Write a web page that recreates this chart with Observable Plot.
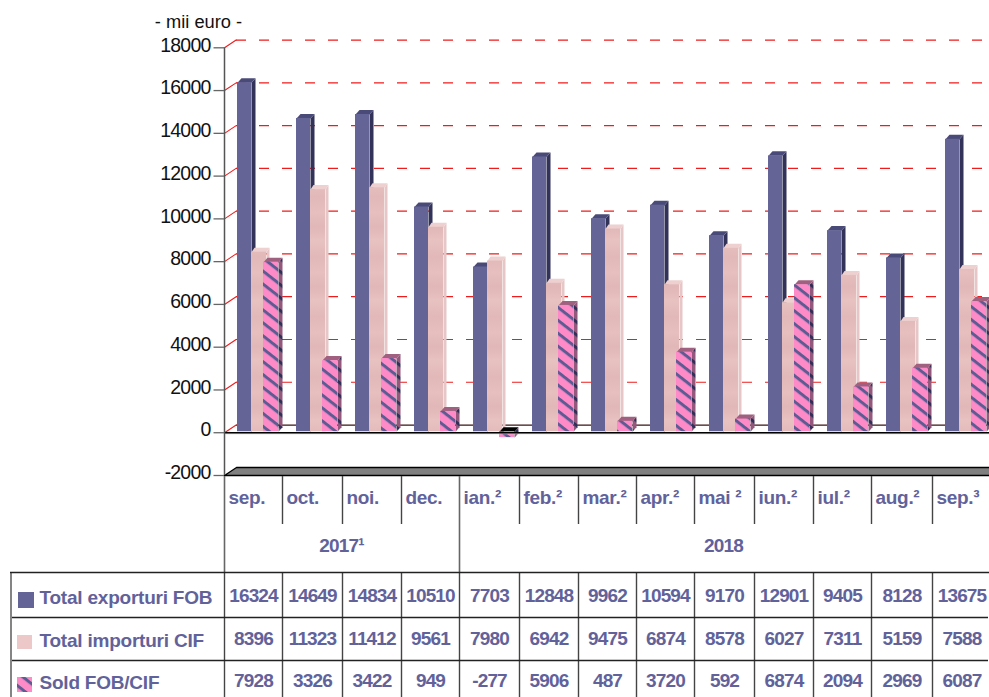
<!DOCTYPE html>
<html><head><meta charset="utf-8">
<script src="https://cdn.jsdelivr.net/npm/d3@7"></script>
<script src="https://cdn.jsdelivr.net/npm/@observablehq/plot@0.6"></script>
<style>
html,body{margin:0;padding:0;background:#fff;overflow:hidden}
#c{position:relative;width:989px;height:697px}
svg{display:block}
#c svg:nth-child(2){position:absolute;left:0;top:476px}
.lbl text{letter-spacing:-.22px}
.num text{letter-spacing:-.85px}
.mon text{letter-spacing:-.3px}
.ax text{letter-spacing:-.8px}
</style></head><body><div id="c"></div>
<script>
const months=["sep.","oct.","noi.","dec.","ian.²","feb.²","mar.²","apr.²","mai ²","iun.²","iul.²","aug.²","sep.³"];
const years=[{t:"2017¹",c:341},{t:"2018",c:723}];
const exportsFOB=[16324,14649,14834,10510,7703,12848,9962,10594,9170,12901,9405,8128,13675];
const importsCIF=[8396,11323,11412,9561,7980,6942,9475,6874,8578,6027,7311,5159,7588];
const soldFOB=[7928,3326,3422,949,-277,5906,487,3720,592,6874,2094,2969,6087];
const yTicks=[-2000,0,2000,4000,6000,8000,10000,12000,14000,16000,18000];
const names=["Total exporturi FOB","Total importuri CIF","Sold FOB/CIF"];

const INK="#62629b", FONT="Liberation Sans";
const pitch=59, x0px=237;
const U=px=>(px-x0px)/pitch;            // month units
const PXV=2000/42.85;                   // value units per pixel
const dX=4/pitch, dY=4.5*PXV, wX=12/pitch, wY=8*PXV;

function faces(vals,off,w,dx=dX){
  const side=[],top=[],front=[];
  vals.forEach((v,i)=>{
    const a=i+off,b=a+w,hi=Math.max(0,v),lo=Math.min(0,v);
    front.push({a,b,v});
    [[b,lo],[b+dx,lo+dY],[b+dx,hi+dY],[b,hi]].forEach(p=>side.push({id:i,x:p[0],y:p[1]}));
    [[a,hi],[a+dx,hi+dY],[b+dx,hi+dY],[b,hi]].forEach(p=>top.push({id:i,v,x:p[0],y:p[1]}));
  });
  return {side,top,front};
}
const poly=(d,fill,dy=-1)=>Plot.line(d,{x:"x",y:"y",z:"id",fill,stroke:"none",curve:"linear-closed",dy});
const series=(f,cS,cT,cF)=>[
  poly(f.side,cS),
  poly(f.top.filter(d=>d.v>=0),cT),
  poly(f.top.filter(d=>d.v<0),"#000"),
  Plot.rect(f.front,{x1:"a",x2:"b",y1:0,y2:"v",fill:cF,dy:-1})
];
const fE=faces(exportsFOB,0,14/pitch),fI=faces(importsCIF,14/pitch,15/pitch,3/pitch),fS=faces(soldFOB,26/pitch,15/pitch);

const defs=()=>{
  const g=d3.create("svg:defs");
  const stripe=(id,bg,fg)=>`<pattern id="${id}" patternUnits="userSpaceOnUse" width="10.2" height="10.2" patternTransform="rotate(38)"><rect width="10.2" height="10.2" fill="${bg}"/><rect y="0" width="10.2" height="3" fill="${fg}"/></pattern>`;
  g.html(stripe("hatch","#ff8ac8","#5c5c92")+stripe("hatchS","#94587c","#2f2f58")+
   `<linearGradient id="pg" x1="0" y1="0" x2="0" y2="1"><stop offset="0" stop-color="#e8c2c2"/><stop offset=".3" stop-color="#e2b8b8"/><stop offset=".55" stop-color="#e7bfbf"/><stop offset=".8" stop-color="#e1b7b7"/><stop offset="1" stop-color="#e7c0c0"/></linearGradient>
    <pattern id="pink" patternUnits="userSpaceOnUse" width="16" height="60"><rect width="16" height="60" fill="url(#pg)"/></pattern>`);
  return g.node();
};
const floor=[[U(224),-2000],[U(224)+wX,-2000+wY],[U(992),-2000+wY],[U(992),-2000]].map(p=>({id:0,x:p[0],y:p[1]}));

const chart=Plot.plot({
  width:989,height:697,marginLeft:224,marginRight:0,marginTop:47.3,marginBottom:222,
  style:{fontFamily:FONT,background:"#fff",color:"#111"},
  x:{domain:[U(224),U(989)],axis:null},
  y:{domain:[-2000,18000],axis:null},
  marks:[
    defs,
    Plot.ruleY(yTicks.filter(d=>d>0),{x1:U(236),x2:U(989),dy:-7.7,stroke:"#ee1c1c",strokeWidth:1.2,strokeDasharray:"10 13"}),
    Plot.ruleY([0],{x1:U(236),x2:U(989),dy:-7.7,stroke:"#3a1414",strokeWidth:1.2}),
    Plot.link(yTicks.filter(d=>d>=0),{x1:U(224),x2:U(236),y1:d=>d,y2:d=>d+wY,stroke:"#ee1c1c",strokeWidth:1.1}),
    Plot.line(floor,{x:"x",y:"y",z:"id",fill:"#808080",stroke:"#000",strokeWidth:1.3,curve:"linear-closed"}),
    ...series(fE,"#33335a","#4a4a78","#646496"),
    ...series(fI,"#e6c6c6","#eed0d0","url(#pink)"),
    ...series(fS,"url(#hatchS)","#a0607f","url(#hatch)"),
    Plot.ruleY([0],{x1:U(224),x2:U(989),dy:1,stroke:"#ccc",strokeWidth:1}),
    Plot.ruleY([0],{x1:U(224),x2:U(989),stroke:"#000",strokeWidth:1.4}),
    Plot.ruleX([U(224)],{y1:-2000,y2:18000,stroke:"#555",strokeWidth:1.5}),
    Plot.ruleY(yTicks,{x1:U(213.5),x2:U(224),stroke:"#666",strokeWidth:1.3}),
    Plot.axisY(yTicks,{anchor:"left",tickSize:0,tickPadding:14,fontSize:19.5,label:null,tickFormat:d=>String(d),fill:"#111",dy:-2.5,className:"ax"}),
    Plot.text(["- mii euro -"],{x:U(198),y:19200,fontSize:18.3,fill:"#111"})
  ]
});

// table: coordinates below are table layout (pixels from the table's top edge)
const T0=476, L=y=>y-T0;
const cols=[224,282,342,401,459,519,578,636,694,754,813,871,932,989];
const cellCx=months.map((_,i)=>(cols[i]+cols[i+1])/2);
const rowY=[595,638,680];
const rowsData=[exportsFOB,importsCIF,soldFOB];
const cells=rowsData.flatMap((vals,r)=>vals.map((v,i)=>({t:String(v),x:cellCx[i]+(i==12?1:0),y:L(rowY[r])})));
const inner=cols.slice(0,-1);
const table=Plot.plot({
  width:989,height:221,margin:0,
  style:{fontFamily:FONT,background:"transparent"},
  x:{type:"identity",axis:null},y:{type:"identity",axis:null},
  marks:[
    defs,
    Plot.ruleX(inner.filter(d=>d!=224&&d!=459),{y1:L(476),y2:L(524),stroke:"#444",strokeWidth:1.4}),
    Plot.ruleX([224,459],{y1:L(476),y2:L(572),stroke:"#666",strokeWidth:1.6}),
    Plot.ruleX(inner,{y1:L(572),y2:L(697),stroke:"#444",strokeWidth:1.4}),
    Plot.ruleX([10.5],{y1:L(572),y2:L(697),stroke:"#777",strokeWidth:1.8}),
    Plot.ruleY([L(572)],{x1:10,x2:989,stroke:"#222",strokeWidth:1.3}),
    Plot.ruleY([L(617),L(660)],{x1:12,x2:988,stroke:"#222",strokeWidth:1.3}),
    Plot.text(months,{x:(_,i)=>cols[i]+4,y:L(497),text:d=>d,textAnchor:"start",fontSize:19,fontWeight:"bold",fill:INK,className:"mon"}),
    Plot.text(years,{x:"c",y:L(545),text:"t",fontSize:19,fontWeight:"bold",fill:INK,className:"num"}),
    Plot.text(cells,{x:"x",y:"y",text:"t",fontSize:19,fontWeight:"bold",fill:INK,className:"num"}),
    Plot.text(names,{x:39,y:(_,i)=>L(rowY[i]+2),text:d=>d,textAnchor:"start",fontSize:19,fontWeight:"bold",fill:INK,className:"lbl"}),
    Plot.rect([0],{x1:18,x2:34,y1:L(592),y2:L(608),fill:"#646496"}),
    Plot.rect([0],{x1:17,x2:32,y1:L(635),y2:L(649),fill:"#ecc8c8"}),
    Plot.rect([0],{x1:17,x2:32,y1:L(677),y2:L(692),fill:"url(#hatch)"})
  ]
});
const host=document.getElementById("c");
host.append(chart,table);
</script></body></html>
